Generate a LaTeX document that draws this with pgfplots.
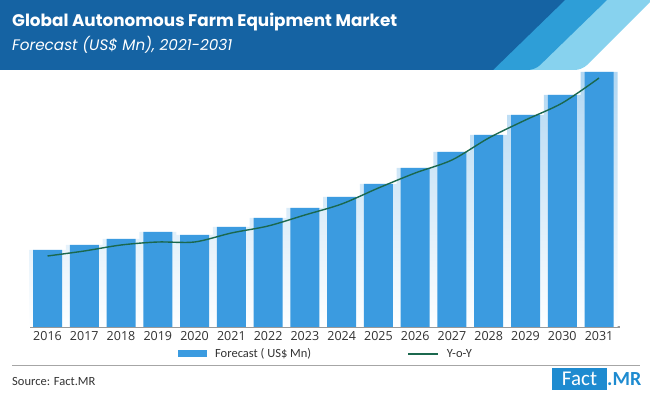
\documentclass[border=0pt]{standalone}
\usepackage{pgfplots}
\pgfplotsset{compat=1.18}
\usepackage{fontspec}
\setmainfont{Carlito}
\newfontfamily\titlefont{Poppins}
\newfontfamily\tickfont{Open Sans}
\definecolor{hdark}{RGB}{21,99,163}
\definecolor{hmid}{RGB}{46,158,215}
\definecolor{hlight}{RGB}{135,210,238}
\definecolor{barblue}{RGB}{59,155,224}
\definecolor{linegreen}{RGB}{27,104,78}
\definecolor{logoblue}{RGB}{30,139,208}
\definecolor{txt}{RGB}{50,50,50}
\begin{document}
\begin{tikzpicture}[x=1pt,y=1pt]
\path[use as bounding box] (0,0) rectangle (650,396);
\begin{scope}
\clip (0,0) rectangle (650,396);
\fill[hlight] (0,396) -- (0,326) [rounded corners=7pt] -- (582,326) [sharp corners] -- (652,396) -- cycle;
\fill[hmid] (0,396) -- (0,326) [rounded corners=7pt] -- (535,326) [sharp corners] -- (607,396) -- cycle;
\fill[hdark] (0,396) -- (0,326) -- (493,326) -- (565,396) -- cycle;
\end{scope}
\node[anchor=west, text=white, inner sep=0pt] at (12,374) {\resizebox{385pt}{!}{\titlefont\bfseries Global Autonomous Farm Equipment Market}};
\node[anchor=west, text=white, inner sep=0pt] at (12,351) {\resizebox{220pt}{!}{\titlefont\itshape Forecast (US\$ Mn), 2021-2031}};

\begin{axis}[at={(30pt,69pt)}, anchor=south west, scale only axis,
  width=590pt, height=257pt,
  xmin=-0.476, xmax=15.57, ymin=0, ymax=257,
  axis x line*=bottom, axis y line=none,
  x axis line style={draw=gray!80, line width=1.2pt, -},
  xtick={0,1,2,3,4,5,6,7,8,9,10,11,12,13,14,15},
  xticklabels={2016,2017,2018,2019,2020,2021,2022,2023,2024,2025,2026,2027,2028,2029,2030,2031},
  major tick length=0pt,
  xticklabel style={font=\tickfont\fontsize{12.5}{14}\selectfont, text=txt, yshift=-1pt},
  clip=false,
  legend columns=2,
  legend style={at={(0.2508,-0.105)}, anchor=west, draw=none, fill=none, inner sep=0pt,
    font=\fontsize{12.5}{14}\selectfont, text=txt,
    /tikz/every odd column/.append style={column sep=6pt},
    /tikz/every even column/.append style={column sep=94pt}},
]
\addplot[ybar, bar width=37pt, draw=none, top color=barblue!40, bottom color=white, forget plot]
  coordinates {(0,77)(1,82)(2,88)(3,95)(4,92)(5,100)(6,109)(7,119)(8,130)(9,143)(10,159)(11,175)(12,192)(13,212)(14,232)(15,255)};
\addplot[ybar, bar width=29pt, fill=barblue, draw=none,
  legend image code/.code={\fill[barblue] (0pt,-3.5pt) rectangle (29pt,3.5pt);}]
  coordinates {(0,77)(1,82)(2,88)(3,95)(4,92)(5,100)(6,109)(7,119)(8,130)(9,143)(10,159)(11,175)(12,192)(13,212)(14,232)(15,255)};
\addlegendentry{Forecast ( US\$ Mn)}
\addplot[linegreen, line width=1.4pt, smooth, mark=none,
  legend image code/.code={\draw[linegreen, line width=1.6pt] (0pt,0pt) -- (30pt,0pt);}]
  coordinates {(0,71)(1,76)(2,82)(3,85)(4,85)(5,94)(6,101)(7,112)(8,123)(9,139)(10,154)(11,167)(12,189)(13,207)(14,224)(15,249)};
\addlegendentry{Y-o-Y}
\end{axis}

\draw[gray!70, line width=1pt] (12,30) -- (640,30);
\node[anchor=base west, inner sep=0pt, text=txt, font=\fontsize{12.5}{14}\selectfont] at (12,11) {Source: Fact.MR};
\node[fill=logoblue, text=white, minimum width=55pt, minimum height=22pt, inner sep=0pt, font=\fontsize{21}{22}\selectfont] at (579.5,17) {Fact};
\node[anchor=west, inner sep=0pt, text=logoblue, font=\fontsize{20}{22}\selectfont\bfseries] at (607,17) {.MR};
\end{tikzpicture}
\end{document}
